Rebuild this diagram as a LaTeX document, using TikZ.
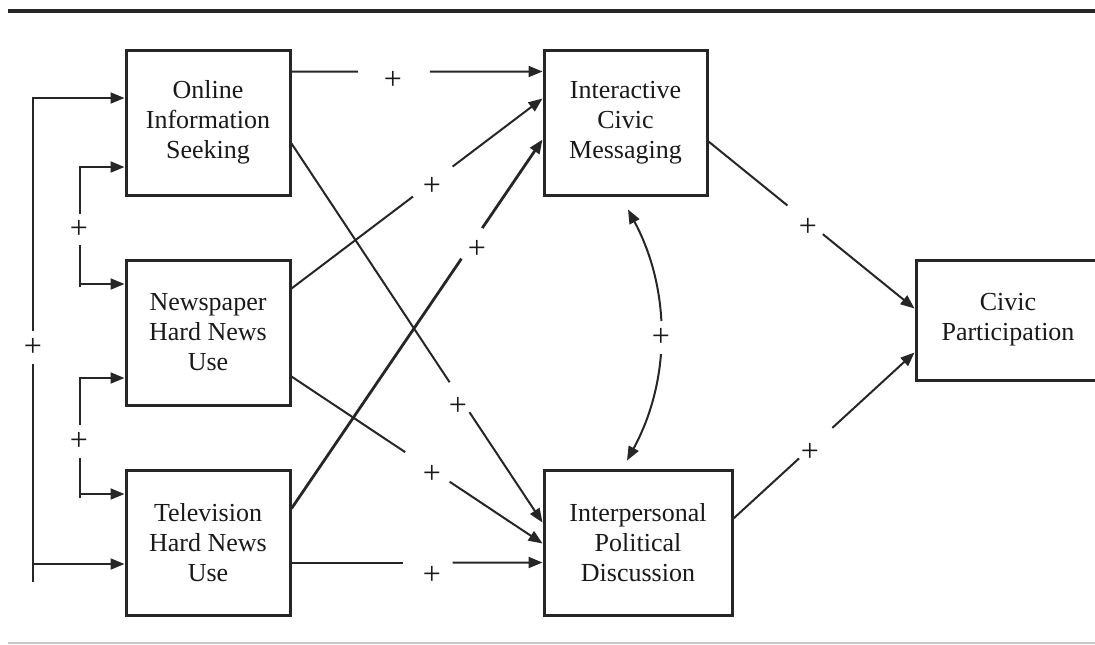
\documentclass[tikz,border=0pt]{standalone}
\usepackage{fontspec}
\setmainfont{Liberation Serif}
\usetikzlibrary{arrows.meta,calc}
\begin{document}
\begin{tikzpicture}[x=0.5pt,y=-0.5pt,
  box/.style={draw=black!85, line width=1.5pt, align=center, inner sep=0pt,
    font=\fontsize{13}{15}\selectfont, text=black!90},
  conn/.style={line width=1pt, draw=black!85},
  thickconn/.style={line width=1.4pt, draw=black!85},
  tip/.style={-{Triangle[length=7pt,width=5.5pt]}},
  plus/.style={inner sep=0pt, font=\fontsize{16}{18}\selectfont, text=black!90},
  gapplus/.style={plus, fill=white, minimum width=8pt},
]
\useasboundingbox (0,0) rectangle (1095,644);

% rules
\draw[line width=2pt, black!85] (8,10.5) -- (1095,10.5);
\draw[line width=0.6pt, black!22] (8,643) -- (1095,643);

% boxes
\node[box, minimum width=82pt, minimum height=72.5pt] (on) at (208,122.5) {Online\\Information\\Seeking};
\node[box, minimum width=82pt, minimum height=72.5pt] (np) at (208,332.5) {Newspaper\\Hard News\\Use};
\node[box, minimum width=82pt, minimum height=72.5pt] (tv) at (208,543) {Television\\Hard News\\Use};
\node[box, minimum width=81.5pt, minimum height=72.5pt] (ia) at (625.5,122.5) {Interactive\\Civic\\Messaging};
\node[box, minimum width=94pt, minimum height=72.5pt] (ip) at (638,543) {Interpersonal\\Political\\Discussion};
\node[box, minimum width=92pt, minimum height=60pt] (cp) at (1008,320) {Civic\\Participation};

% end points of the paths
\coordinate (a1) at ($(on.north east)+(0,23)$);
\coordinate (b1) at ($(ia.north west)+(0,23)$);
\coordinate (a2) at ($(on.north east)+(0,95)$);
\coordinate (b2) at ($(ip.north west)+(0,53.5)$);
\coordinate (a3) at ($(np.north east)+(0,30)$);
\coordinate (b3) at ($(ia.north west)+(0,50)$);
\coordinate (a4) at ($(np.north east)+(0,118)$);
\coordinate (b4) at ($(ip.north west)+(0,74.5)$);
\coordinate (a5) at ($(tv.north east)+(0,39.5)$);
\coordinate (b5) at ($(ia.north west)+(0,91)$);
\coordinate (a6) at ($(tv.north east)+(0,93.5)$);
\coordinate (b6) at ($(ip.north west)+(0,93.5)$);
\coordinate (a7) at ($(ia.north east)+(0,93)$);
\coordinate (b7) at ($(cp.north west)+(0,50)$);
\coordinate (a8) at ($(ip.north east)+(0,49.5)$);
\coordinate (b8) at ($(cp.north west)+(0,94)$);

% paths with a gap for the sign
\draw[conn] (a1) -- ($(a1)!0.264!(b1)$);
\draw[conn,tip] ($(a1)!0.551!(b1)$) -- (b1);
\node[plus] (p1) at (393,80) {+};

\draw[conn] (a2) -- ($(a2)!0.63!(b2)$);
\draw[conn,tip] ($(a2)!0.709!(b2)$) -- (b2);
\node[plus] (p2) at (458,406) {+};

\draw[conn] (a3) -- ($(a3)!0.484!(b3)$);
\draw[conn,tip] ($(a3)!0.642!(b3)$) -- (b3);
\node[plus] (p3) at (432,186) {+};

\draw[conn] (a4) -- ($(a4)!0.453!(b4)$);
\draw[conn,tip] ($(a4)!0.63!(b4)$) -- (b4);
\node[plus] (p4) at (432,474) {+};

\draw[thickconn] (a5) -- ($(a5)!0.677!(b5)$);
\draw[thickconn,tip] ($(a5)!0.76!(b5)$) -- (b5);
\node[plus] (p5) at (477,249) {+};

\draw[conn] (a6) -- ($(a6)!0.445!(b6)$);
\draw[conn,tip] ($(a6)!0.642!(b6)$) -- (b6);
\node[plus] (p6) at (432,575) {+};

\draw[conn] (a7) -- ($(a7)!0.383!(b7)$);
\draw[conn,tip] ($(a7)!0.555!(b7)$) -- (b7);
\node[plus] (p7) at (808,227) {+};

\draw[conn] (a8) -- ($(a8)!0.362!(b8)$);
\draw[conn,tip] ($(a8)!0.546!(b8)$) -- (b8);
\node[plus] (p8) at (810,452) {+};

% correlation between the two mediators
\coordinate (c1) at ($(ia.south)+(2.5,13)$);
\coordinate (c2) at ($(ip.north)+(-11,-8.5)$);
\draw[conn,{Triangle[length=7pt,width=5.5pt]}-{Triangle[length=7pt,width=5.5pt]}]
  (c1) .. controls (671,290) and (671,380) .. (c2);
\node[gapplus, minimum height=16.5pt] (p9) at (661,337) {+};

% correlations among the media variables
\coordinate (o1) at (33,98);
\coordinate (o2) at (33,564);
\coordinate (o3) at (33,582);
\draw[conn,tip] (o3) -- (o1) -- (o1 -| on.west);
\draw[conn,tip] (o2) -- (o2 -| tv.west);
\node[gapplus, minimum height=16.5pt] (p10) at (33,347) {+};

\coordinate (i1) at (80,167);
\coordinate (i2) at (80,284);
\coordinate (i3) at (80,287);
\draw[conn,tip] (i3) -- (i1) -- (i1 -| on.west);
\draw[conn,tip] (i2) -- (i2 -| np.west);
\node[gapplus, minimum height=15.5pt] (p11) at (79,229) {+};

\coordinate (j1) at (80,378);
\coordinate (j2) at (80,494);
\coordinate (j3) at (80,498);
\draw[conn,tip] (j3) -- (j1) -- (j1 -| np.west);
\draw[conn,tip] (j2) -- (j2 -| tv.west);
\node[gapplus, minimum height=16.5pt] (p12) at (79,441) {+};
\end{tikzpicture}
\end{document}
